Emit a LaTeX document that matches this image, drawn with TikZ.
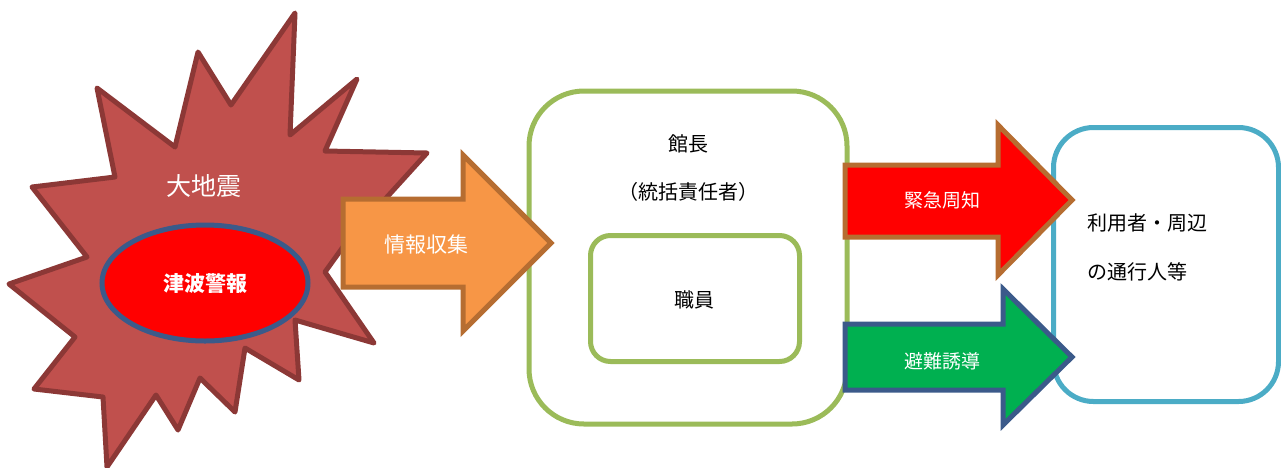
\documentclass[tikz,border=0pt]{standalone}
\usepackage{fontspec}
\usetikzlibrary{shapes.geometric}
\newfontfamily\jp{Noto Sans CJK JP}
\definecolor{starfill}{HTML}{C0504D}
\definecolor{stardraw}{HTML}{8C3836}
\definecolor{ellblue}{HTML}{3B5A8A}
\definecolor{orfill}{HTML}{F79646}
\definecolor{ordraw}{HTML}{B66D31}
\definecolor{grbox}{HTML}{9BBB59}
\definecolor{blbox}{HTML}{4BACC6}
\definecolor{grarrow}{HTML}{00B050}
\tikzset{
  lbl/.style={font=\jp\fontsize{21}{24}\selectfont, text=white, inner sep=0pt},
  blk/.style={font=\jp\fontsize{20}{24}\selectfont, text=black, inner sep=0pt},
  arrowshape/.style={line width=5pt, line join=miter},
  boxstyle/.style={line width=5pt, fill=white},
}
\begin{document}
\begin{tikzpicture}[x=1pt,y=-1pt]
\useasboundingbox (0,0) rectangle (1281,467);
% starburst
\draw[fill=starfill, draw=stardraw, line width=5pt, line join=round]
 (295,13) -- (290,135) -- (357,79) -- (325,151) -- (427,153) -- (348,240)
 -- (325,272) -- (374,343) -- (295,320) -- (299,380) -- (245,348) -- (235,412)
 -- (200,378) -- (178,430) -- (156,395) -- (107,467) -- (103,397) -- (34,389)
 -- (75,337) -- (9,284) -- (87,257) -- (32,187) -- (115,177) -- (97,88)
 -- (175,147) -- (198,52) -- (231,105) -- cycle;
\node[lbl, font=\jp\fontsize{25}{28}\selectfont] (jishin) at (204,186) {大地震};
\node[ellipse, draw=ellblue, fill=red, line width=5pt, minimum width=206pt, minimum height=116pt] (tsunami) at (205,283) {};
\node[lbl, font=\jp\bfseries\fontsize{21}{24}\selectfont] (tsunamit) at (tsunami) {津波警報};
% green box
\node[boxstyle, draw=grbox, rounded corners=55pt, minimum width=318pt, minimum height=333pt] (kan) at (688,257.5) {};
\node[blk] (kancho) at (688,144) {館長};
\node[blk] (tokatsu) at (688,192) {（統括責任者）};
\node[boxstyle, draw=grbox, rounded corners=20pt, minimum width=209pt, minimum height=126pt] (shokuin) at (695,298.5) {};
\node[blk] (shokuint) at (694,300) {職員};
% blue box
\node[boxstyle, draw=blbox, rounded corners=40pt, minimum width=225pt, minimum height=274pt] (riyo) at (1166,264.5) {};
\node[blk, anchor=west] (riyo1) at (1087,223) {利用者・周辺};
\node[blk, anchor=west] (riyo2) at (1087,272) {の通行人等};
% orange arrow
\draw[arrowshape, fill=orfill, draw=ordraw]
 (343,199) -- (463,199) -- (463,155) -- (551,243) -- (463,331) -- (463,287) -- (343,287) -- cycle;
\node[lbl] (joho) at (426,245) {情報収集};
% red arrow
\draw[arrowshape, fill=red, draw=ordraw]
 (845,165) -- (998,165) -- (998,125) -- (1072,200) -- (998,275) -- (998,237) -- (845,237) -- cycle;
\node[lbl, font=\jp\fontsize{19}{22}\selectfont] (kinkyu) at (942,200) {緊急周知};
% green arrow
\draw[arrowshape, fill=grarrow, draw=ellblue]
 (845,324) -- (1003,324) -- (1003,289) -- (1072,357) -- (1003,425) -- (1003,390) -- (845,390) -- cycle;
\node[lbl, font=\jp\fontsize{19}{22}\selectfont] (hinan) at (942,361) {避難誘導};
\end{tikzpicture}
\end{document}
